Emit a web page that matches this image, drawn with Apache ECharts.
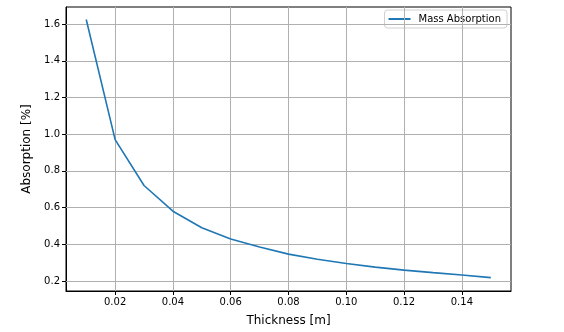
<!DOCTYPE html>
<html><head><meta charset="utf-8">
<script src="https://cdn.jsdelivr.net/npm/echarts@6/dist/echarts.min.js"></script>
<style>html,body{margin:0;padding:0;background:#fff}#c{width:564px;height:332px}</style>
</head><body><div id="c"></div>
<script>
const thickness = [0.01,0.02,0.03,0.04,0.05,0.06,0.07,0.08,0.09,0.10,0.11,0.12,0.13,0.14,0.15];
const absorption = [1.625,0.97,0.72,0.58,0.49,0.428,0.385,0.346,0.318,0.295,0.275,0.259,0.245,0.232,0.218];
const xTicks = [0.02,0.04,0.06,0.08,0.10,0.12,0.14];
const yTicks = [0.2,0.4,0.6,0.8,1.0,1.2,1.4,1.6];
const seriesName = 'Mass Absorption';

const chart = echarts.init(document.getElementById('c'), null, {renderer:'canvas'});
const font = 'DejaVu Sans';
const gridColor = '#b0b0b0';
chart.setOption({
  animation:false,
  backgroundColor:'#fff',
  textStyle:{fontFamily:font},
  grid:{left:66,top:7,right:53,bottom:36,show:true,borderColor:'#000',borderWidth:1,containLabel:false},
  legend:{
    top:10,right:57,
    itemWidth:22,itemHeight:2,itemGap:6,
    icon:'rect',
    padding:[4,6,4,4],
    borderColor:'#d0d0d0',borderWidth:1,borderRadius:3,
    backgroundColor:'rgba(255,255,255,0.8)',
    textStyle:{fontFamily:font,fontSize:10,color:'#000',padding:[0,0,0,3]},
    data:[seriesName]
  },
  xAxis:{
    type:'value',min:0.003,max:0.157,
    name:'Thickness [m]',nameLocation:'middle',nameGap:24,
    nameTextStyle:{fontFamily:font,fontSize:12,color:'#000'},
    axisLine:{show:true,lineStyle:{color:'#000',width:1}},
    axisTick:{show:true,length:4,customValues:xTicks,lineStyle:{color:'#000'}},
    axisLabel:{customValues:xTicks,fontFamily:font,fontSize:10,color:'#000',margin:6,
      formatter:v=>v.toFixed(2)},
    splitLine:{show:false}
  },
  yAxis:{
    type:'value',min:0.145,max:1.693,
    name:'Absorption [%]',nameLocation:'middle',nameGap:27,nameRotate:90,
    nameTextStyle:{fontFamily:font,fontSize:12,color:'#000'},
    axisLine:{show:true,lineStyle:{color:'#000',width:1}},
    axisTick:{show:true,length:4,customValues:yTicks,lineStyle:{color:'#000'}},
    axisLabel:{customValues:yTicks,fontFamily:font,fontSize:10,color:'#000',margin:6,
      formatter:v=>v.toFixed(1)},
    splitLine:{show:false}
  },
  series:[{
    name:seriesName,type:'line',
    data:thickness.map((t,i)=>[t,absorption[i]]),
    showSymbol:false,symbol:'none',
    lineStyle:{color:'#1f77b4',width:1.6},
    itemStyle:{color:'#1f77b4'},
    z:5,
    markLine:{
      silent:true,symbol:'none',label:{show:false},
      lineStyle:{color:gridColor,width:1,type:'solid'},
      data:[...xTicks.map(v=>({xAxis:v})),...yTicks.map(v=>({yAxis:v}))]
    }
  }]
});
</script></body></html>
